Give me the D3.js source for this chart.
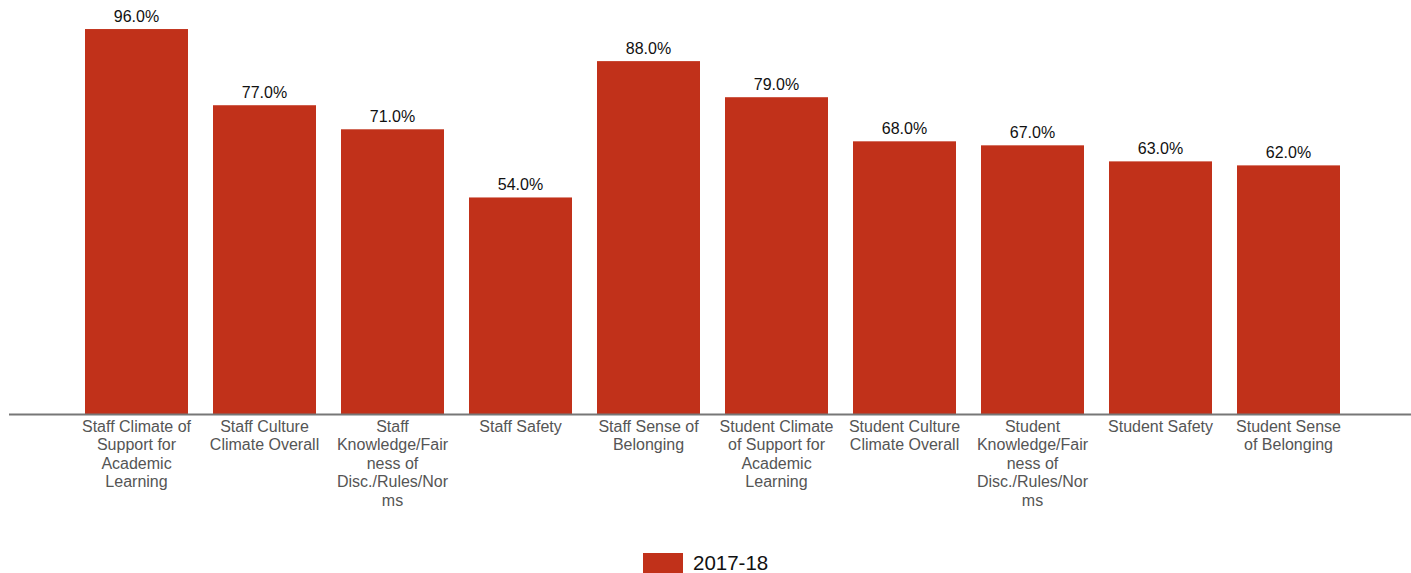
<!DOCTYPE html>
<html lang="en">
<head>
<meta charset="UTF-8">
<title>School Climate 2017-18</title>
<script src="https://d3js.org/d3.v7.min.js"></script>
<style>
  body { margin: 0; background: #fff; }
  text { font-family: Arial, "Liberation Sans", sans-serif; }
</style>
</head>
<body>
<div id="chart"></div>
<script>
// data
var categories = [
  "Staff Climate of Support for Academic Learning",
  "Staff Culture Climate Overall",
  "Staff Knowledge/Fairness of Disc./Rules/Norms",
  "Staff Safety",
  "Staff Sense of Belonging",
  "Student Climate of Support for Academic Learning",
  "Student Culture Climate Overall",
  "Student Knowledge/Fairness of Disc./Rules/Norms",
  "Student Safety",
  "Student Sense of Belonging"
];
// tick labels as wrapped in the original
var tickLabels = [
  ["Staff Climate of", "Support for", "Academic", "Learning"],
  ["Staff Culture", "Climate Overall"],
  ["Staff", "Knowledge/Fair", "ness of", "Disc./Rules/Nor", "ms"],
  ["Staff Safety"],
  ["Staff Sense of", "Belonging"],
  ["Student Climate", "of Support for", "Academic", "Learning"],
  ["Student Culture", "Climate Overall"],
  ["Student", "Knowledge/Fair", "ness of", "Disc./Rules/Nor", "ms"],
  ["Student Safety"],
  ["Student Sense", "of Belonging"]
];
var values2017 = [96, 77, 71, 54, 88, 79, 68, 67, 63, 62];
var seriesName = "2017-18";

var width = 1411, height = 573;
var barColor = "#c1311a";

var svg = d3.select("#chart").append("svg")
  .attr("width", width)
  .attr("height", height);

var x = d3.scaleBand()
  .domain(categories)
  .range([72.5, 1352.5])
  .paddingInner(25 / 128)
  .paddingOuter(25 / 256);

var y = d3.scaleLinear()
  .domain([0, 100])
  .range([414, 13]);

// bars
svg.selectAll("rect.bar")
  .data(values2017)
  .enter().append("rect")
  .attr("class", "bar")
  .attr("x", function(d, i) { return x(categories[i]); })
  .attr("y", function(d) { return y(d); })
  .attr("width", x.bandwidth())
  .attr("height", function(d) { return y(0) - y(d); })
  .attr("fill", barColor);

// value labels
svg.selectAll("text.val")
  .data(values2017)
  .enter().append("text")
  .attr("class", "val")
  .attr("x", function(d, i) { return x(categories[i]) + x.bandwidth() / 2; })
  .attr("y", function(d) { return y(d) - 7; })
  .attr("text-anchor", "middle")
  .attr("font-size", "16px")
  .attr("fill", "#111")
  .text(function(d) { return d.toFixed(1) + "%"; });

// baseline
svg.append("line")
  .attr("x1", 9).attr("x2", width)
  .attr("y1", y(0) + 0.5).attr("y2", y(0) + 0.5)
  .attr("stroke", "#777")
  .attr("stroke-width", 2);

// x axis labels
var labels = svg.selectAll("text.cat")
  .data(tickLabels)
  .enter().append("text")
  .attr("class", "cat")
  .attr("text-anchor", "middle")
  .attr("font-size", "16px")
  .attr("fill", "#555")
  .attr("transform", function(d, i) {
    return "translate(" + (x(categories[i]) + x.bandwidth() / 2) + ",431.5)";
  });

labels.selectAll("tspan")
  .data(function(d) { return d; })
  .enter().append("tspan")
  .attr("x", 0)
  .attr("dy", function(d, j) { return j === 0 ? 0 : 18.5; })
  .text(function(d) { return d; });

// legend
var legend = svg.append("g").attr("transform", "translate(643,553)");
legend.append("rect")
  .attr("width", 40).attr("height", 20)
  .attr("fill", barColor);
legend.append("text")
  .attr("x", 50).attr("y", 17)
  .attr("font-size", "20.5px")
  .attr("fill", "#111")
  .text(seriesName);
</script>
</body>
</html>
